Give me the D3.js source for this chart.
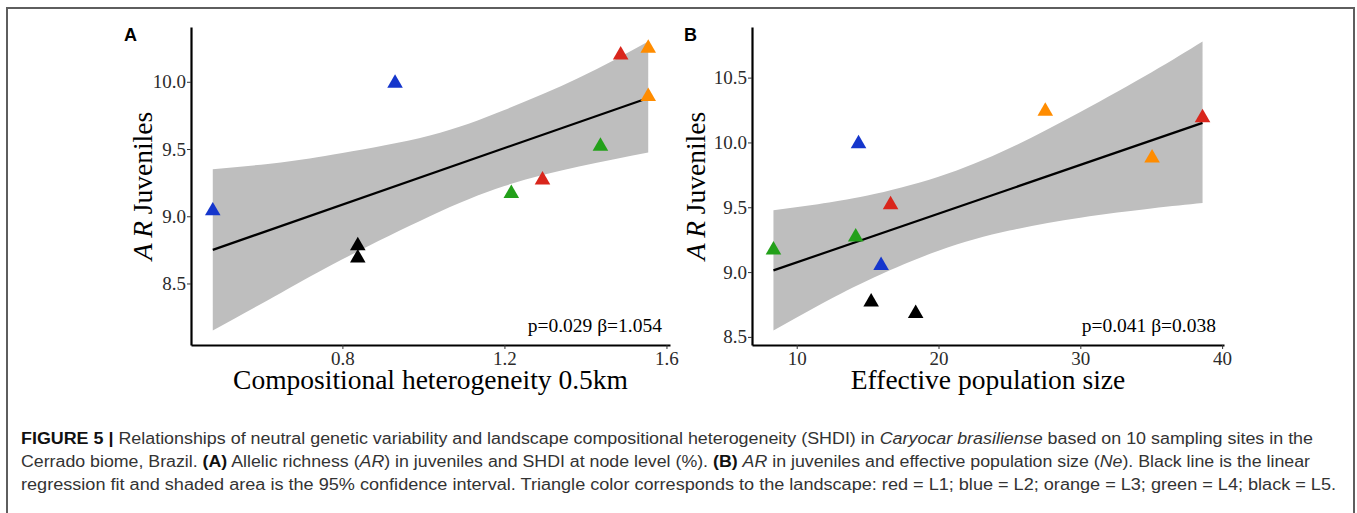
<!DOCTYPE html>
<html lang="en">
<head>
  <meta charset="UTF-8">
  <title>Figure 5 - AR Juveniles</title>
  <script src="https://d3js.org/d3.v7.min.js"></script>
  <style>
    body { margin: 0; padding: 0; background: #fff; }
    svg { display: block; }
  </style>
</head>
<body>
<svg id="fig" width="1357" height="513"></svg>
<script>
// landscape colours (red = L1; blue = L2; orange = L3; green = L4; black = L5)
const landColor = { L1: "#d9261c", L2: "#1536cc", L3: "#ff8c00", L4: "#23a01a", L5: "#000000" };

// Panel A : compositional heterogeneity vs AR juveniles
const aX    = [0.48, 0.93, 0.838, 0.838, 1.217, 1.294, 1.437, 1.487, 1.555, 1.555];
const aY    = [9.04, 9.99, 8.78, 8.69, 9.17, 9.27, 9.52, 10.20, 10.25, 9.89];
const aLand = ["L2", "L2", "L5", "L5", "L4", "L1", "L4", "L1", "L3", "L3"];
const aFitX = [0.48, 1.555];
const aFitY = [8.75, 9.88];
const aBandX  = [0.48, 0.648, 0.8, 1.016, 1.2, 1.384, 1.555];
const aBandLo = [8.15, 8.43, 8.68, 9.00, 9.225, 9.37, 9.475];
const aBandHi = [9.35, 9.40, 9.47, 9.60, 9.79, 10.03, 10.30];
const aXTicks = [0.8, 1.2, 1.6];
const aYTicks = [8.5, 9.0, 9.5, 10.0];

// Panel B : effective population size vs AR juveniles
const bX    = [8.36, 14.16, 14.36, 15.95, 16.62, 15.25, 18.39, 27.53, 35.06, 38.62];
const bY    = [9.17, 9.27, 9.99, 9.05, 9.52, 8.77, 8.68, 10.24, 9.88, 10.19];
const bLand = ["L4", "L4", "L2", "L2", "L1", "L5", "L5", "L3", "L3", "L1"];
const bFitX = [8.36, 38.62];
const bFitY = [9.013, 10.151];
const bBandX  = [8.36, 11.5, 15, 20, 25, 30, 35, 38.62];
const bBandLo = [8.549, 8.74, 8.935, 9.165, 9.32, 9.42, 9.49, 9.532];
const bBandHi = [9.477, 9.524, 9.59, 9.735, 9.955, 10.235, 10.54, 10.779];
const bXTicks = [10, 20, 30, 40];
const bYTicks = [8.5, 9.0, 9.5, 10.0, 10.5];

const serif = "'Liberation Serif', 'Times New Roman', serif";
const sans = "'Liberation Sans', Arial, sans-serif";

const svg = d3.select("#fig");
svg.append("rect").attr("width", 1357).attr("height", 513).attr("fill", "#fff");

// outer frame
svg.append("rect")
  .attr("x", 7).attr("y", 8).attr("width", 1347).attr("height", 530)
  .attr("fill", "none").attr("stroke", "#5e5e5e").attr("stroke-width", 2);

// ggplot-like 5% expansion
function expand(ext) {
  const pad = (ext[1] - ext[0]) * 0.05;
  return [ext[0] - pad, ext[1] + pad];
}

function drawPanel(p) {
  const g = svg.append("g");
  const x = d3.scaleLinear()
    .domain(expand(d3.extent(p.xs.concat(p.bandX))))
    .range([p.left, p.right]);
  const y = d3.scaleLinear()
    .domain(expand(d3.extent(p.ys.concat(p.bandLo, p.bandHi))))
    .range([p.bottom, p.top]);

  // confidence band
  const band = p.bandX.map((d, i) => ({ x: d, lo: p.bandLo[i], hi: p.bandHi[i] }));
  g.append("path")
    .datum(band)
    .attr("fill", "#bebebe")
    .attr("d", d3.area().curve(d3.curveNatural)
      .x(d => x(d.x)).y0(d => y(d.lo)).y1(d => y(d.hi)));

  // regression line
  g.append("path")
    .datum(p.fitX.map((d, i) => [d, p.fitY[i]]))
    .attr("fill", "none").attr("stroke", "#000").attr("stroke-width", 2.2)
    .attr("d", d3.line().x(d => x(d[0])).y(d => y(d[1])));

  // triangles
  const tri = d3.symbol().type(d3.symbolTriangle).size(105);
  g.selectAll("path.pt")
    .data(p.xs.map((d, i) => ({ x: d, y: p.ys[i], land: p.land[i] })))
    .join("path")
    .attr("class", "pt")
    .attr("d", tri)
    .attr("transform", d => `translate(${x(d.x)},${y(d.y)})`)
    .attr("fill", d => landColor[d.land]);

  // axes
  const xAxis = g.append("g")
    .attr("transform", `translate(0,${p.bottom})`)
    .call(d3.axisBottom(x).tickValues(p.xTicks).tickFormat(p.xFmt).tickSize(4).tickSizeOuter(0).tickPadding(3));
  const yAxis = g.append("g")
    .attr("transform", `translate(${p.left},0)`)
    .call(d3.axisLeft(y).tickValues(p.yTicks).tickFormat(d3.format(".1f")).tickSize(4).tickSizeOuter(0).tickPadding(1));
  [xAxis, yAxis].forEach(a => {
    a.select(".domain").attr("stroke", "#000").attr("stroke-width", 2.2);
    a.selectAll(".tick line").attr("stroke", "#333").attr("stroke-width", 1);
    a.selectAll(".tick text").attr("fill", "#2b2b2b")
      .style("font-family", serif).style("font-size", "19px");
  });

  // axis titles
  g.append("text")
    .attr("x", (p.left + p.right) / 2).attr("y", 389)
    .attr("text-anchor", "middle")
    .style("font-family", serif).style("font-size", "27.5px").attr("fill", "#000")
    .text(p.xTitle);

  const yt = g.append("text")
    .attr("transform", `translate(${p.left - p.yTitleGap},${(p.top + p.bottom) / 2}) rotate(-90)`)
    .attr("text-anchor", "middle")
    .style("font-family", serif).style("font-size", "27.5px").attr("fill", "#000");
  yt.append("tspan").style("font-style", "italic").text("A\u2009R");
  yt.append("tspan").text(" Juveniles");

  // statistics
  g.append("text")
    .attr("x", p.right - 8).attr("y", 332)
    .attr("text-anchor", "end")
    .style("font-family", serif).style("font-size", "19.5px").attr("fill", "#000")
    .text(p.stat);

  // panel letter
  g.append("text")
    .attr("x", p.letterX).attr("y", 41)
    .style("font-family", sans).style("font-size", "18px").style("font-weight", "bold")
    .text(p.letter);
}

drawPanel({
  xs: aX, ys: aY, land: aLand, fitX: aFitX, fitY: aFitY,
  bandX: aBandX, bandLo: aBandLo, bandHi: aBandHi,
  xTicks: aXTicks, yTicks: aYTicks, xFmt: d3.format(".1f"),
  left: 191, right: 670, top: 27, bottom: 345, yTitleGap: 39,
  xTitle: "Compositional heterogeneity 0.5km",
  stat: "p=0.029 \u03b2=1.054", letter: "A", letterX: 124
});

drawPanel({
  xs: bX, ys: bY, land: bLand, fitX: bFitX, fitY: bFitY,
  bandX: bBandX, bandLo: bBandLo, bandHi: bBandHi,
  xTicks: bXTicks, yTicks: bYTicks, xFmt: d3.format("d"),
  left: 752, right: 1224, top: 27, bottom: 345, yTitleGap: 47,
  xTitle: "Effective population size",
  stat: "p=0.041 \u03b2=0.038", letter: "B", letterX: 684
});

// caption
const captionLines = [
  { y: 444, len: 1292, parts: [
    ["FIGURE 5 | ", "bold"], ["Relationships of neutral genetic variability and landscape compositional heterogeneity (SHDI) in ", ""],
    ["Caryocar brasiliense", "italic"], [" based on 10 sampling sites in the", ""]] },
  { y: 467, len: 1289, parts: [
    ["Cerrado biome, Brazil. ", ""], ["(A)", "bold"], [" Allelic richness (", ""], ["AR", "italic"],
    [") in juveniles and SHDI at node level (%). ", ""], ["(B)", "bold"], [" ", ""], ["AR", "italic"],
    [" in juveniles and effective population size (", ""], ["Ne", "italic"], ["). Black line is the linear", ""]] },
  { y: 490, len: 1315, parts: [
    ["regression fit and shaded area is the 95% confidence interval. Triangle color corresponds to the landscape: red = L1; blue = L2; orange = L3; green = L4; black = L5.", ""]] }
];

captionLines.forEach(line => {
  const t = svg.append("text")
    .attr("x", 21).attr("y", line.y)
    .attr("textLength", line.len).attr("lengthAdjust", "spacingAndGlyphs")
    .style("font-family", sans).style("font-size", "16px").attr("fill", "#333");
  line.parts.forEach(([s, st]) => {
    const ts = t.append("tspan").text(s);
    if (st === "bold") ts.style("font-weight", "bold").attr("fill", "#111");
    if (st === "italic") ts.style("font-style", "italic");
  });
});
</script>
</body>
</html>
